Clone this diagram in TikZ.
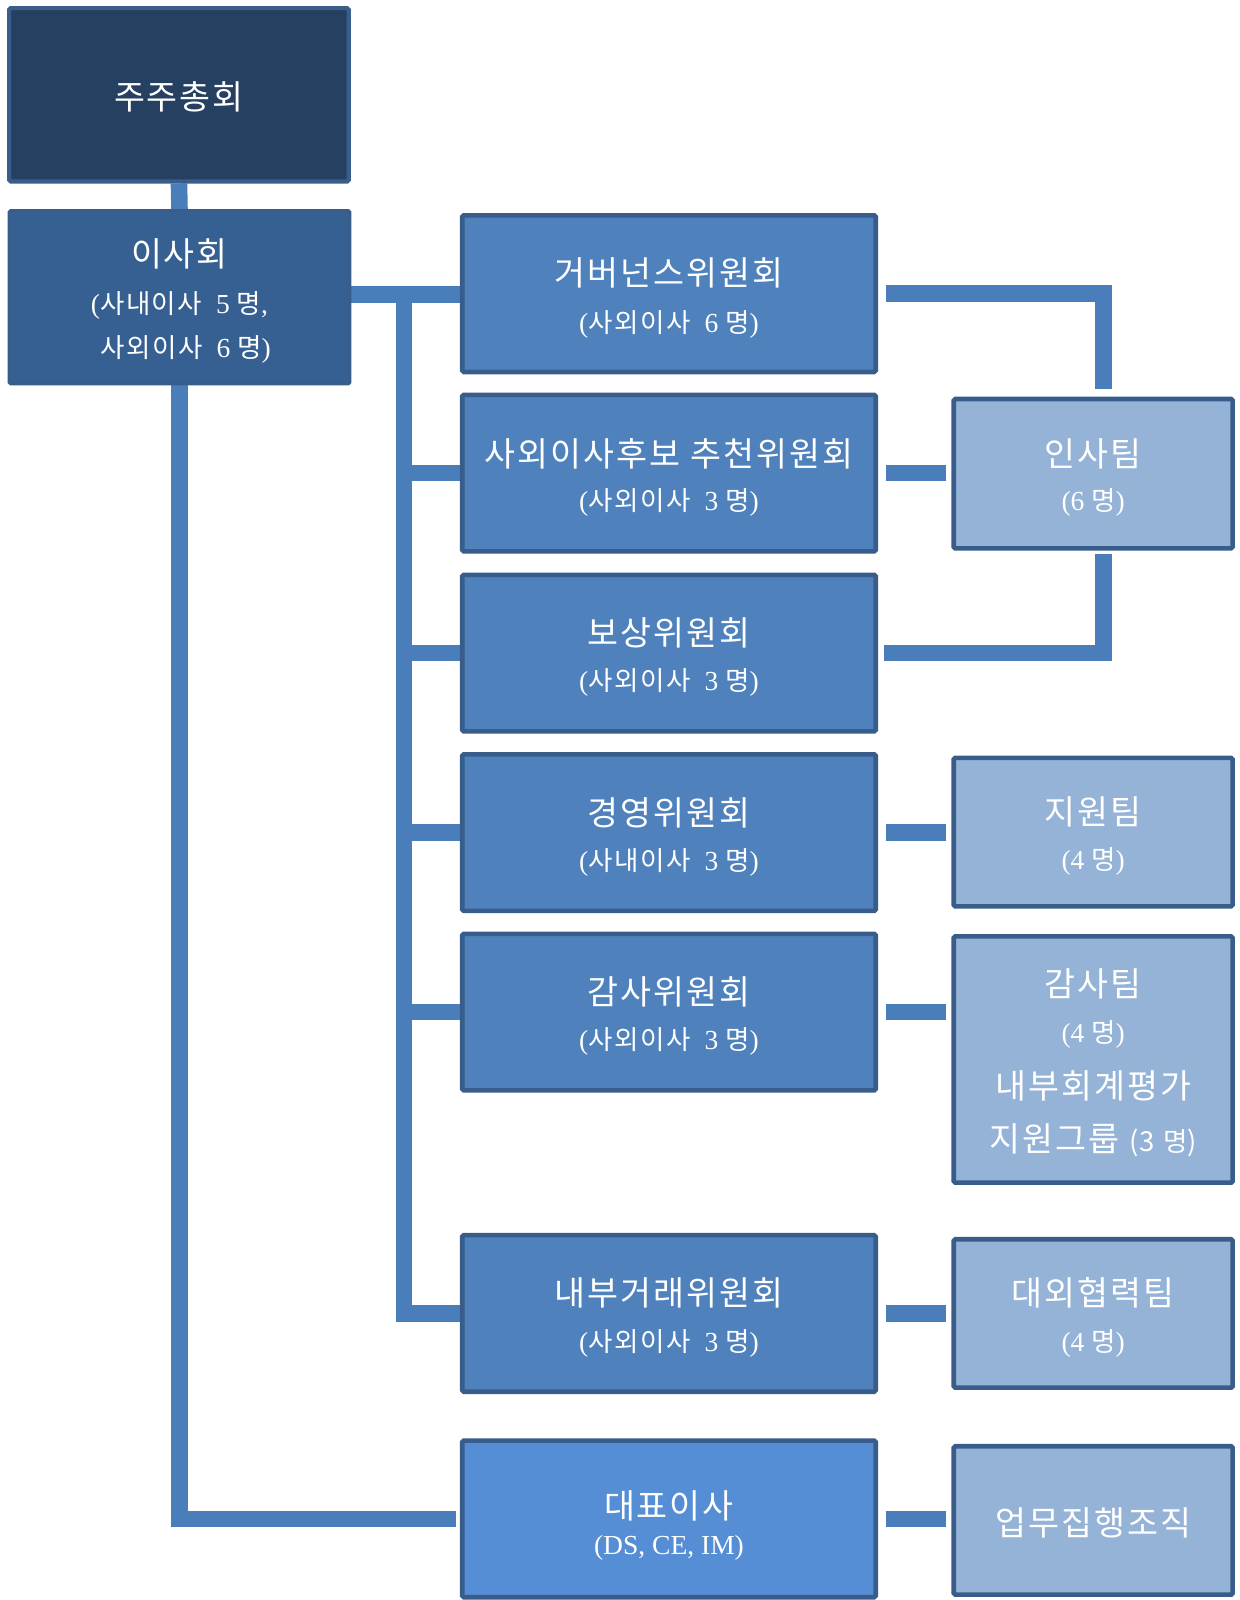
\documentclass[tikz,border=0pt]{standalone}
\usepackage{fontspec}
\setmainfont{Liberation Serif}
\newfontfamily\krfont{Noto Sans CJK KR}[LetterSpace=6]
\newcommand\ttlf{\fontsize{33}{33}\selectfont\krfont}
\newcommand\subf{\fontsize{27}{27}\selectfont}
\newcommand\sk[1]{{\fontsize{26}{26}\selectfont\krfont #1}}
\definecolor{topfill}{HTML}{254061}
\definecolor{topbord}{HTML}{3A5E8C}
\definecolor{boardfill}{HTML}{376092}
\definecolor{midfill}{HTML}{4F81BD}
\definecolor{ceofill}{HTML}{558ED5}
\definecolor{teamfill}{HTML}{95B3D7}
\definecolor{bordc}{HTML}{385D8A}
\definecolor{connc}{HTML}{4A7EBB}
\pgfdeclarelayer{bg}
\pgfsetlayers{bg,main}
\begin{document}
\begin{tikzpicture}[x=1pt,y=-1pt,
  box/.style={draw=bordc, line width=4.5pt, rounded corners=1.5pt, inner sep=0pt},
  topbox/.style={box, draw=topbord, line width=4pt, fill=topfill, minimum width=333pt, minimum height=170pt},
  boardbox/.style={box, draw=bordc, line width=3pt, fill=boardfill, minimum width=334pt, minimum height=170pt},
  midbox/.style={box, fill=midfill, minimum width=405.5pt, minimum height=153.5pt},
  ceobox/.style={midbox, fill=ceofill},
  teambox/.style={box, fill=teamfill, minimum width=273.5pt},
  conn/.style={draw=connc, line width=16.3pt, line join=miter},
  ttl/.style={text=white, inner sep=0pt, font=\ttlf},
  sub/.style={text=white, inner sep=0pt, font=\subf}]
\useasboundingbox (0,0) rectangle (1215,1569);

% --- boxes ---
\node[topbox] (gm) at (175.5,93) {};
\node[boardbox] (board) at (176,291.5) {};
\node[midbox] (gov) at (656,288) {};
\node[midbox] (nom) at (656,464) {};
\node[midbox] (comp) at (656,640.5) {};
\node[midbox] (mgmt) at (656,816.5) {};
\node[midbox] (audit) at (656,992.5) {};
\node[midbox] (rpt) at (656,1288) {};
\node[ceobox] (ceo) at (656,1489.5) {};
\node[teambox, minimum height=146.5pt] (hr) at (1072,464.5) {};
\node[teambox, minimum height=145.5pt] (sup) at (1072,816) {};
\node[teambox, minimum height=241.5pt] (aud) at (1072,1039) {};
\node[teambox, minimum height=145.5pt] (ext) at (1072,1288) {};
\node[teambox, minimum height=145.5pt] (ops) at (1072,1491) {};

% --- texts ---
\node[ttl] (gm-t) at (175.5,95) {주주총회};
\node[ttl] (board-t) at (176,249) {이사회};
\node[sub] (board-s1) at (176,300) {(\sk{사내이사}~~5~\sk{명},};
\node[sub] (board-s2) at (182,343) {\sk{사외이사}~~6~\sk{명})};

\node[ttl] (gov-t) at (656,268) {거버넌스위원회};
\node[sub] (gov-s) at (656,318) {(\sk{사외이사}~~6~\sk{명})};
\node[ttl] (nom-t) at (656,445) {사외이사후보~추천위원회};
\node[sub] (nom-s) at (656,493) {(\sk{사외이사}~~3~\sk{명})};
\node[ttl] (comp-t) at (656,621) {보상위원회};
\node[sub] (comp-s) at (656,669) {(\sk{사외이사}~~3~\sk{명})};
\node[ttl] (mgmt-t) at (656,797) {경영위원회};
\node[sub] (mgmt-s) at (656,846) {(\sk{사내이사}~~3~\sk{명})};
\node[ttl] (audit-t) at (656,973) {감사위원회};
\node[sub] (audit-s) at (656,1021) {(\sk{사외이사}~~3~\sk{명})};
\node[ttl] (rpt-t) at (656,1268) {내부거래위원회};
\node[sub] (rpt-s) at (656,1317) {(\sk{사외이사}~~3~\sk{명})};
\node[ttl] (ceo-t) at (656,1477) {대표이사};
\node[sub] (ceo-s) at (656,1518) {(DS, CE, IM)};

\node[ttl] (hr-t) at (1072,445) {인사팀};
\node[sub] (hr-s) at (1072,493) {(6~\sk{명})};
\node[ttl] (sup-t) at (1072,796) {지원팀};
\node[sub] (sup-s) at (1072,845) {(4~\sk{명})};
\node[ttl] (aud-t) at (1072,965) {감사팀};
\node[sub] (aud-s) at (1072,1014) {(4~\sk{명})};
\node[ttl] (aud-t2) at (1072,1065) {내부회계평가};
\node[ttl] (aud-t3) at (1072,1118) {지원그룹~{\subf(3~\sk{명})}};
\node[ttl] (ext-t) at (1072,1268) {대외협력팀};
\node[sub] (ext-s) at (1072,1317) {(4~\sk{명})};
\node[ttl] (ops-t) at (1072,1493) {업무집행조직};

% --- connectors ---
\coordinate (trunk) at (396,288.5);
\coordinate (brx) at (1082,0);
\begin{pgfonlayer}{bg}
\draw[conn] (gm.south) -- (board.north);
\draw[conn] (board.east |- trunk) -- (gov.west |- trunk);
\draw[conn] (trunk) -- ([yshift=-8pt]trunk |- rpt.west);
\foreach \b in {nom,comp,mgmt,audit,rpt}
  \draw[conn] ([xshift=-8pt]trunk |- \b.west) -- (\b.west);
\draw[conn] (board.south) |- ([xshift=-4pt]ceo.west);
\foreach \a/\b in {nom/hr,mgmt/sup,audit/aud,rpt/ext,ceo/ops}
  \draw[conn] ([xshift=8pt]\a.east) -- ([xshift=-5pt]\a.east -| \b.west);
\draw[conn] ([xshift=8pt]gov.east) -| ([yshift=8pt]hr.north -| brx);
\draw[conn] ([yshift=-3pt]hr.south -| brx) |- ([xshift=6pt]comp.east);
\end{pgfonlayer}
\end{tikzpicture}
\end{document}
